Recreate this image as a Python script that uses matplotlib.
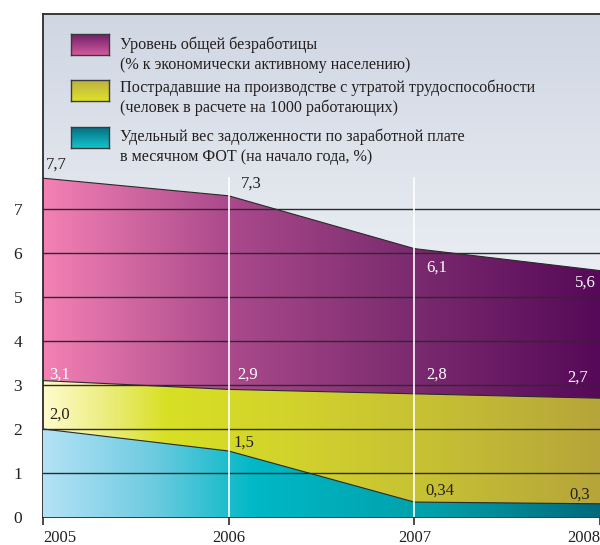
import matplotlib
matplotlib.use("Agg")
import matplotlib.pyplot as plt
import numpy as np
from matplotlib.colors import LinearSegmentedColormap
from matplotlib.patches import Polygon

# ---- data ----
years = [2005, 2006, 2007, 2008]
unemployment = [7.7, 7.3, 6.1, 5.6]
injured = [3.1, 2.9, 2.8, 2.7]
wage_debt = [2.0, 1.5, 0.34, 0.3]

unemp_labels = ["7,7", "7,3", "6,1", "5,6"]
injured_labels = ["3,1", "2,9", "2,8", "2,7"]
debt_labels = ["2,0", "1,5", "0,34", "0,3"]

legend_texts = [
    "Уровень общей безработицы\n(% к экономически активному населению)",
    "Пострадавшие на производстве с утратой трудоспособности\n(человек в расчете на 1000 работающих)",
    "Удельный вес задолженности по заработной плате\nв месячном ФОТ (на начало года, %)",
]

plt.rcParams["font.family"] = ["Liberation Serif", "DejaVu Serif"]
TXT = "#231f20"

# horizontal gradients for the areas
cm_mag = LinearSegmentedColormap.from_list("mag", [
    (0.0, "#f381b4"), (0.33, "#ab4a8c"), (0.67, "#7a2a6e"), (1.0, "#560958")])
cm_yel = LinearSegmentedColormap.from_list("yel", [
    (0.0, "#fffbcc"), (0.12, "#eaec78"), (0.22, "#d8e024"), (0.45, "#d2d22c"),
    (0.7, "#c6c034"), (1.0, "#b6a53a")])
cm_cya = LinearSegmentedColormap.from_list("cya", [
    (0.0, "#b4e2f6"), (0.2, "#6ccbe0"), (0.38, "#00b8c6"), (0.7, "#00a0aa"),
    (1.0, "#006a7c")])
cm_bg = LinearSegmentedColormap.from_list("bg", [
    (0.0, "#f2f4f7"), (0.45, "#eceff4"), (1.0, "#d0d7e3")])

fig = plt.figure(figsize=(6.0, 5.45), dpi=100)
ax = fig.add_axes([43 / 600, 28 / 545, 557 / 600, 503 / 545])

x0, x1 = years[0], years[-1]
y_top = 503 / 44.0
ax.set_xlim(x0, x1)
ax.set_ylim(0, y_top)

# background gradient
grad = np.linspace(0, 1, 256).reshape(-1, 1)
ax.imshow(grad, extent=(x0, x1, 0, y_top), origin="lower", aspect="auto",
          cmap=cm_bg, zorder=0)

hgrad = np.linspace(0, 1, 256).reshape(1, -1)


def grad_area(vals, cmap, z):
    pts = [(years[0], 0)] + list(zip(years, vals)) + [(years[-1], 0)]
    poly = Polygon(pts, closed=True, facecolor="none", edgecolor="none")
    ax.add_patch(poly)
    im = ax.imshow(hgrad, extent=(x0, x1, 0, max(vals)), origin="lower",
                   aspect="auto", cmap=cmap, zorder=z)
    im.set_clip_path(poly)
    ax.plot(years, vals, color="#2a2a2a", lw=0.8, zorder=z + 0.5)


grad_area(unemployment, cm_mag, 1)
grad_area(injured, cm_yel, 2)
grad_area(wage_debt, cm_cya, 3)

# horizontal grid lines
for v in range(1, 8):
    ax.axhline(v, color="#2b2b2b", lw=1.0, zorder=5)

# white vertical guides
for yr in years[1:3]:
    ax.plot([yr, yr], [0, 7.7], color="white", lw=1.2, zorder=6)

# value labels: (x, y, text, colour)
label_specs = [
    (2005.07, 8.0, unemp_labels[0], TXT),
    (2006.12, 7.57, unemp_labels[1], TXT),
    (2007.12, 5.66, unemp_labels[2], "white"),
    (2007.92, 5.32, unemp_labels[3], "white"),
    (2005.09, 3.23, injured_labels[0], "white"),
    (2006.10, 3.23, injured_labels[1], "white"),
    (2007.12, 3.23, injured_labels[2], "white"),
    (2007.88, 3.16, injured_labels[3], "white"),
    (2005.09, 2.32, debt_labels[0], TXT),
    (2006.08, 1.70, debt_labels[1], TXT),
    (2007.14, 0.61, debt_labels[2], TXT),
    (2007.89, 0.50, debt_labels[3], TXT),
]
for lx, ly, lab, col in label_specs:
    ax.text(lx, ly, lab, color=col, fontsize=12, ha="center", va="center", zorder=7)

# legend (gradient swatches + two-line captions)
leg_cmaps = [
    LinearSegmentedColormap.from_list("l1", ["#d25a9c", "#6c1d66"]),
    LinearSegmentedColormap.from_list("l2", ["#dde22a", "#bcb040"]),
    LinearSegmentedColormap.from_list("l3", ["#14c3cc", "#046e80"]),
]
vgrad = np.linspace(0, 1, 64).reshape(-1, 1)
patch_tops = [34, 80, 127]
text_tops = [45, 88, 137]
for top, ttop, cmap, label in zip(patch_tops, text_tops, leg_cmaps, legend_texts):
    lx0, lx1 = 71 / 600, 109 / 600
    ly0, ly1 = 1 - (top + 21) / 545, 1 - top / 545
    iax = fig.add_axes([lx0, ly0, lx1 - lx0, ly1 - ly0])
    iax.imshow(vgrad, aspect="auto", cmap=cmap, origin="lower")
    iax.set_xticks([])
    iax.set_yticks([])
    for s in iax.spines.values():
        s.set_color("#3a3a3a")
        s.set_linewidth(1.0)
    for k, line in enumerate(label.split("\n")):
        fig.text(120 / 600, 1 - (ttop + 20 * k) / 545, line, color=TXT,
                 fontsize=11.6, ha="left", va="center")

# axes styling
for side in ["left", "top", "bottom"]:
    ax.spines[side].set_color("#2b2b2b")
    ax.spines[side].set_linewidth(1.3)
ax.spines["right"].set_visible(False)

ax.set_yticks(range(0, 8))
ax.set_yticklabels([str(v) for v in range(0, 8)], fontsize=12.5, color=TXT)
ax.tick_params(axis="y", length=0, pad=15)

ax.set_xticks(years)
ax.set_xticklabels([str(y) for y in years], fontsize=12, color=TXT)
ax.tick_params(axis="x", length=6, width=1.2, color="#2b2b2b", pad=3, direction="out")
for t, ha in zip(ax.get_xticklabels(), ["left", "center", "center", "right"]):
    t.set_ha(ha)

fig.savefig("out.png", dpi=100)
